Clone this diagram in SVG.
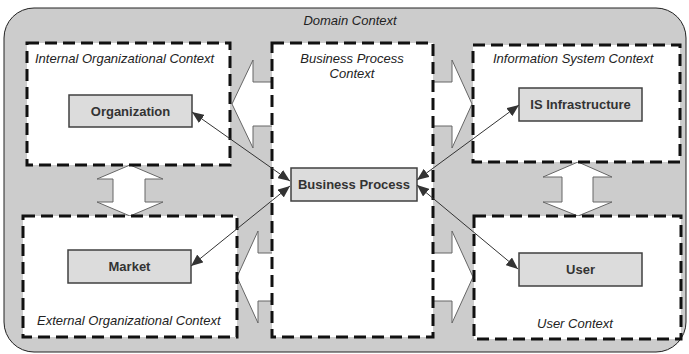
<svg xmlns="http://www.w3.org/2000/svg" width="689" height="354" viewBox="0 0 689 354">
<style>
.ctx{fill:#ffffff;stroke:#111111;stroke-width:3;stroke-dasharray:12 6}
.blk{fill:#ffffff;stroke:#666666;stroke-width:1}
.node{fill:#dcdcdc;stroke:#404040;stroke-width:1.5}
.lbl{font-family:"Liberation Sans",Arial,sans-serif;font-size:13px;font-weight:bold;fill:#333333;text-anchor:middle}
.ital{font-family:"Liberation Sans",Arial,sans-serif;font-size:13px;font-style:italic;fill:#222222}
.con{stroke:#333333;stroke-width:1;fill:none;marker-start:url(#ah);marker-end:url(#ah)}
</style>
<defs>
<marker id="ah" viewBox="0 0 12 10" refX="12" refY="5" markerWidth="12" markerHeight="10" markerUnits="userSpaceOnUse" orient="auto-start-reverse">
<path d="M0,0 L12,5 L0,10 Z" fill="#333333"/>
</marker>
</defs>
<g id="domain">
<rect x="4" y="8" width="682" height="344" rx="30" ry="30" fill="#cccccc" stroke="#222222" stroke-width="1"/>
<text class="ital" x="350" y="25" text-anchor="middle">Domain Context</text>
</g>
<g id="block-arrows">
<path class="blk" d="M232,104 L253,60 L253,82 L452,82 L452,60 L472,104 L452,148 L452,126 L253,126 L253,148 Z"/>
<path class="blk" d="M237,277 L258,231 L258,253 L452,253 L452,231 L473,277 L452,323 L452,301 L258,301 L258,323 Z"/>
<path class="blk" d="M130,165 L163,179 L145,179 L145,202 L163,202 L130,216 L97,202 L113,202 L113,179 L97,179 Z"/>
<path class="blk" d="M578,162 L612,177 L593,177 L593,202 L612,202 L578,216 L543,202 L562,202 L562,177 L543,177 Z"/>
</g>
<g id="internal-context">
<rect class="ctx" x="27" y="43" width="203" height="122"/>
<text class="ital" x="35" y="63">Internal Organizational Context</text>
</g>
<g id="bp-context">
<rect class="ctx" x="272" y="43" width="161" height="294"/>
<text class="ital" x="352" y="63" text-anchor="middle">Business Process</text>
<text class="ital" x="352" y="78" text-anchor="middle">Context</text>
</g>
<g id="is-context">
<rect class="ctx" x="473" y="45" width="207" height="117"/>
<text class="ital" x="493" y="63">Information System Context</text>
</g>
<g id="external-context">
<rect class="ctx" x="23" y="216" width="214" height="121"/>
<text class="ital" x="37" y="325">External Organizational Context</text>
</g>
<g id="user-context">
<rect class="ctx" x="474" y="216" width="207" height="123"/>
<text class="ital" x="537" y="328">User Context</text>
</g>
<g id="organization">
<rect class="node" x="69" y="95" width="123" height="32"/>
<text class="lbl" x="130.5" y="115.5">Organization</text>
</g>
<g id="business-process">
<rect class="node" x="291" y="168" width="126" height="33"/>
<text class="lbl" x="354" y="189">Business Process</text>
</g>
<g id="is-infrastructure">
<rect class="node" x="519" y="88" width="123" height="33"/>
<text class="lbl" x="580.5" y="109">IS Infrastructure</text>
</g>
<g id="market">
<rect class="node" x="68" y="250" width="123" height="33"/>
<text class="lbl" x="129.5" y="271">Market</text>
</g>
<g id="user">
<rect class="node" x="519" y="253" width="123" height="33"/>
<text class="lbl" x="580.5" y="274">User</text>
</g>
<g id="connectors">
<path class="con" d="M192,112 L290,181"/>
<path class="con" d="M191,266 L290,186"/>
<path class="con" d="M519,105 L417,180"/>
<path class="con" d="M417,185 L518,269"/>
</g>
</svg>
